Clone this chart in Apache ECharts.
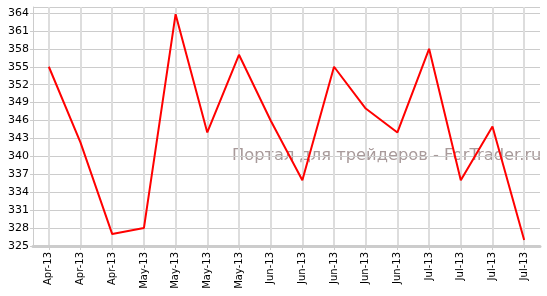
<!DOCTYPE html>
<html><head><meta charset="utf-8">
<script src="https://cdn.jsdelivr.net/npm/echarts@6/dist/echarts.min.js"></script>
<style>html,body{margin:0;padding:0;background:#fff}#c{width:547px;height:296px}</style>
</head><body><div id="c"></div>
<script>
const categories = ['Apr-13','Apr-13','Apr-13','May-13','May-13','May-13','May-13','Jun-13','Jun-13','Jun-13','Jun-13','Jun-13','Jul-13','Jul-13','Jul-13','Jul-13'];
const values = [355, 342.3, 327, 328, 363.8, 344, 357, 346, 336, 355, 348, 344, 358, 336, 345, 326];
const watermark = 'Портал для трейдеров - ForTrader.ru';

const chart = echarts.init(document.getElementById('c'));
chart.setOption({
  animation: false,
  grid: { left: 33, right: 7, top: 7, bottom: 50, containLabel: false },
  graphic: [{
    type: 'text', left: 232, top: 148, z: -10, zlevel: 0,
    style: { text: watermark, fill: '#a89a9a', font: '16.3px "DejaVu Sans", sans-serif' }
  }],
  xAxis: {
    type: 'category', data: categories, boundaryGap: true,
    axisLine: { lineStyle: { color: '#cccccc', width: 3 } },
    axisTick: { show: true, alignWithLabel: true, length: 4, lineStyle: { color: '#cccccc' } },
    splitLine: { show: true, alignWithLabel: true, lineStyle: { color: '#dddddd', width: 2 } },
    axisLabel: { rotate: 90, color: '#000', fontSize: 10, fontFamily: 'DejaVu Sans', margin: 6, interval: 0 }
  },
  yAxis: {
    type: 'value', min: 325, max: 365, interval: 3,
    axisLine: { show: true, lineStyle: { color: '#cccccc', width: 1 } },
    axisTick: { show: true, length: 3, lineStyle: { color: '#cccccc' } },
    splitLine: { show: true, lineStyle: { color: '#cccccc', width: 1 } },
    axisLabel: { color: '#000', fontSize: 11, fontFamily: 'DejaVu Sans', margin: 4, showMaxLabel: false,
      formatter: v => (v === 365 ? '' : String(v)) }
  },
  series: [{
    type: 'line', data: values, showSymbol: false, symbol: 'none', zlevel: 1,
    lineStyle: { color: '#ff0000', width: 2 }
  }]
});
</script></body></html>
